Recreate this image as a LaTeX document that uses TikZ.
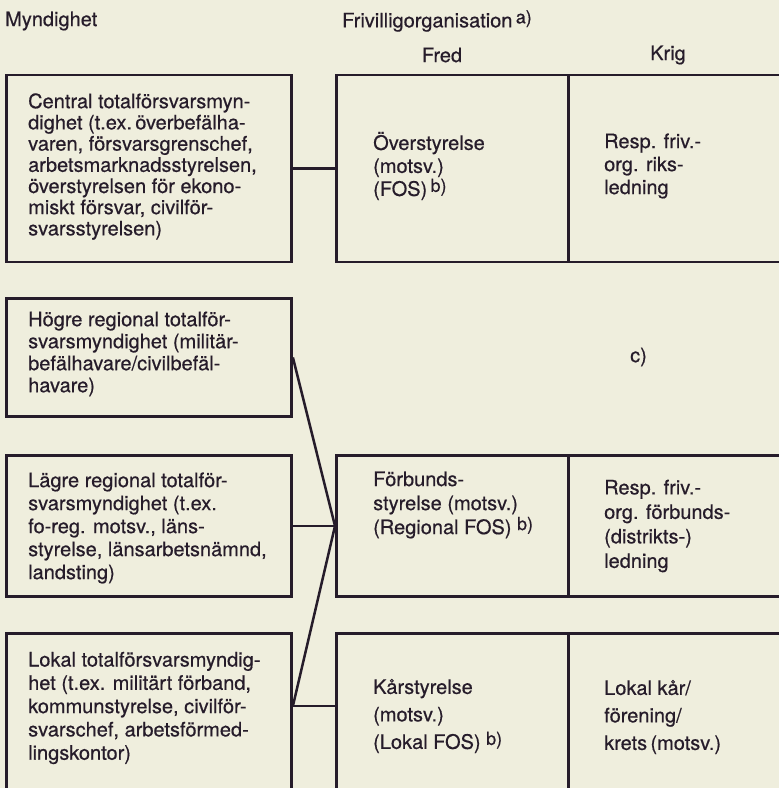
\documentclass[tikz,border=0pt]{standalone}
\usepackage{fontspec}
\setmainfont{TeX Gyre Heros}[FakeBold=0.5]
\usetikzlibrary{calc}
\definecolor{paper}{HTML}{EFEEDD}
\definecolor{ink}{HTML}{261C2A}
\newcommand\supmark[1]{\raisebox{4pt}{\fontsize{18}{18}\selectfont #1}}
\begin{document}
\begin{tikzpicture}[x=1pt,y=-1pt,
  box/.style={draw=ink, line width=2.9pt, rectangle, inner sep=0pt, anchor=north west},
  lbl/.style={text=ink, font=\fontsize{20}{22}\selectfont, align=left, anchor=west, inner sep=0pt},
  con/.style={draw=ink, line width=2.5pt}]
\fill[paper] (0,0) rectangle (779,788);
\useasboundingbox (0,0) rectangle (779,788);
\clip (0,0) rectangle (779,788);

% headers
\node[lbl] (hm) at (5,21) {Myndighet};
\node[lbl] (hf) at (342,21) {Frivilligorganisation\,\supmark{a)}};
\node[lbl, anchor=center] (hfred) at (442,55) {Fred};
\node[lbl, anchor=center] (hkrig) at (668,55) {Krig};

% left column boxes
\node[box, minimum width=285pt, minimum height=187pt] (b1) at (5,73.5) {};
\node[box, minimum width=285pt, minimum height=118pt] (b2) at (5,297) {};
\node[box, minimum width=285pt, minimum height=141pt] (b3) at (5,454) {};
\node[box, minimum width=285pt, minimum height=180pt] (b4) at (5,632) {};

% right column boxes
\node[box, minimum width=232pt, minimum height=187pt] (fA) at (335,73.5) {};
\node[box, minimum width=240pt, minimum height=187pt] (kA) at (567,73.5) {};
\node[box, minimum width=232pt, minimum height=141pt] (fB) at (335,454) {};
\node[box, minimum width=240pt, minimum height=141pt] (kB) at (567,454) {};
\node[box, minimum width=232pt, minimum height=180pt] (fC) at (335,632) {};
\node[box, minimum width=240pt, minimum height=180pt] (kC) at (567,632) {};

% texts left
\node[lbl, font=\fontsize{20}{21.2}\selectfont] (t1) at (28,166.5) {Central totalförsvarsmyn-\\dighet (t.ex.\,överbefälha-\\varen, försvarsgrenschef,\\arbetsmarknadsstyrelsen,\\överstyrelsen för ekono-\\miskt försvar, civilför-\\svarsstyrelsen)};
\node[lbl] (t2) at (28,354) {Högre regional totalför-\\svarsmyndighet (militär-\\befälhavare/civilbefäl-\\havare)};
\node[lbl, font=\fontsize{20}{23}\selectfont] (t3) at (28,528) {Lägre regional totalför-\\svarsmyndighet (t.ex.\\fo-reg. motsv., läns-\\styrelse, länsarbetsnämnd,\\landsting)};
\node[lbl, font=\fontsize{20}{23.3}\selectfont] (t4) at (28,708) {Lokal totalförsvarsmyndig-\\het (t.ex. militärt förband,\\kommunstyrelse, civilför-\\svarschef, arbetsförmed-\\lingskontor)};

% texts right
\node[lbl, font=\fontsize{20}{23}\selectfont] (tfA) at (373,166) {Överstyrelse\\(motsv.)\\(FOS)\,\supmark{b)}};
\node[lbl, font=\fontsize{20}{23}\selectfont] (tkA) at (604,166) {Resp. friv.-\\org. riks-\\ledning};
\node[lbl, font=\fontsize{20}{24}\selectfont] (tfB) at (373,505) {Förbunds-\\styrelse (motsv.)\\(Regional FOS) \supmark{b)}};
\node[lbl, font=\fontsize{20}{24.5}\selectfont] (tkB) at (604,526) {Resp. friv.-\\org. förbunds-\\(distrikts-)\\ledning};
\node[lbl, font=\fontsize{20}{27.5}\selectfont] (tfC) at (373,716) {Kårstyrelse\\(motsv.)\\(Lokal FOS) \supmark{b)}};
\node[lbl, font=\fontsize{20}{27.5}\selectfont] (tkC) at (604,717) {Lokal kår/\\förening/\\krets\,(motsv.)};
\node[lbl] (tc) at (630,357) {c)};

% connectors
\coordinate (c4) at ($(b4.north east)+(0,74)$);
\draw[con] (b1.east) -- (fA.west);
\draw[con] (b2.east) -- (fB.west);
\draw[con] (b3.east) -- (fB.west);
\draw[con] (c4) -- (fB.west);
\draw[con] (c4) -- (c4 -| fC.west);
\end{tikzpicture}
\end{document}
